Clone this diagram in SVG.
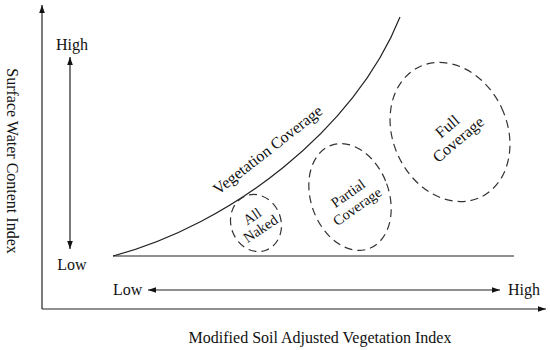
<svg xmlns="http://www.w3.org/2000/svg" width="550" height="350" viewBox="0 0 550 350">
<style>
text{font-family:"Liberation Serif","Times New Roman",serif;fill:#111;}
.lbl{font-size:16px;}
.in{font-size:14.5px;text-anchor:middle;}
.ax{stroke:#222;stroke-width:1.2;fill:none;}
.dash{stroke:#333;stroke-width:1.2;fill:none;stroke-dasharray:8 5;}
</style>
<defs>
<marker id="ah" viewBox="0 0 10 10" refX="10" refY="5" markerWidth="8" markerHeight="8" markerUnits="userSpaceOnUse" orient="auto-start-reverse">
<path d="M0,1.5 L10,5 L0,8.5 Z" fill="#111"/>
</marker>
</defs>
<rect width="550" height="350" fill="#fff"/>
<g id="connectors">
<line class="ax" x1="42" y1="309" x2="42" y2="5" marker-end="url(#ah)"/>
<line class="ax" x1="42" y1="309" x2="546" y2="309" marker-end="url(#ah)"/>
<line class="ax" x1="70" y1="57" x2="70" y2="249" marker-start="url(#ah)" marker-end="url(#ah)"/>
<line class="ax" x1="148" y1="290" x2="500" y2="290" marker-start="url(#ah)" marker-end="url(#ah)"/>
<line class="ax" x1="113" y1="256" x2="514" y2="256"/>
<path class="ax" d="M113,256 C230,225 355,130 400,17"/>
</g>
<g id="axis-labels">
<text class="lbl" transform="translate(7,161) rotate(90)" text-anchor="middle">Surface Water Content Index</text>
<text class="lbl" x="320" y="343" text-anchor="middle">Modified Soil Adjusted Vegetation Index</text>
<text class="lbl" x="72" y="50" text-anchor="middle">High</text>
<text class="lbl" x="72" y="270" text-anchor="middle">Low</text>
<text class="lbl" x="113" y="295">Low</text>
<text class="lbl" x="508" y="295">High</text>
<text class="lbl" transform="translate(271,154) rotate(-38)" text-anchor="middle">Vegetation Coverage</text>
</g>
<g id="all-naked">
<ellipse class="dash" cx="256" cy="223" rx="25" ry="29" transform="rotate(-20 256 223)"/>
<text class="in" transform="translate(256,222) rotate(-34)"><tspan x="0" y="-2">All</tspan><tspan x="0" y="13">Naked</tspan></text>
</g>
<g id="partial-coverage">
<ellipse class="dash" cx="350" cy="197" rx="39" ry="55" transform="rotate(-20 350 197)"/>
<text class="in" transform="translate(352,199) rotate(-35)"><tspan x="0" y="-2">Partial</tspan><tspan x="0" y="14">Coverage</tspan></text>
</g>
<g id="full-coverage">
<ellipse class="dash" cx="450" cy="132" rx="57" ry="72" transform="rotate(-25 450 132)"/>
<text class="in" style="font-size:16px" transform="translate(452,132) rotate(-40)"><tspan x="0" y="-2">Full</tspan><tspan x="0" y="15">Coverage</tspan></text>
</g>
</svg>
